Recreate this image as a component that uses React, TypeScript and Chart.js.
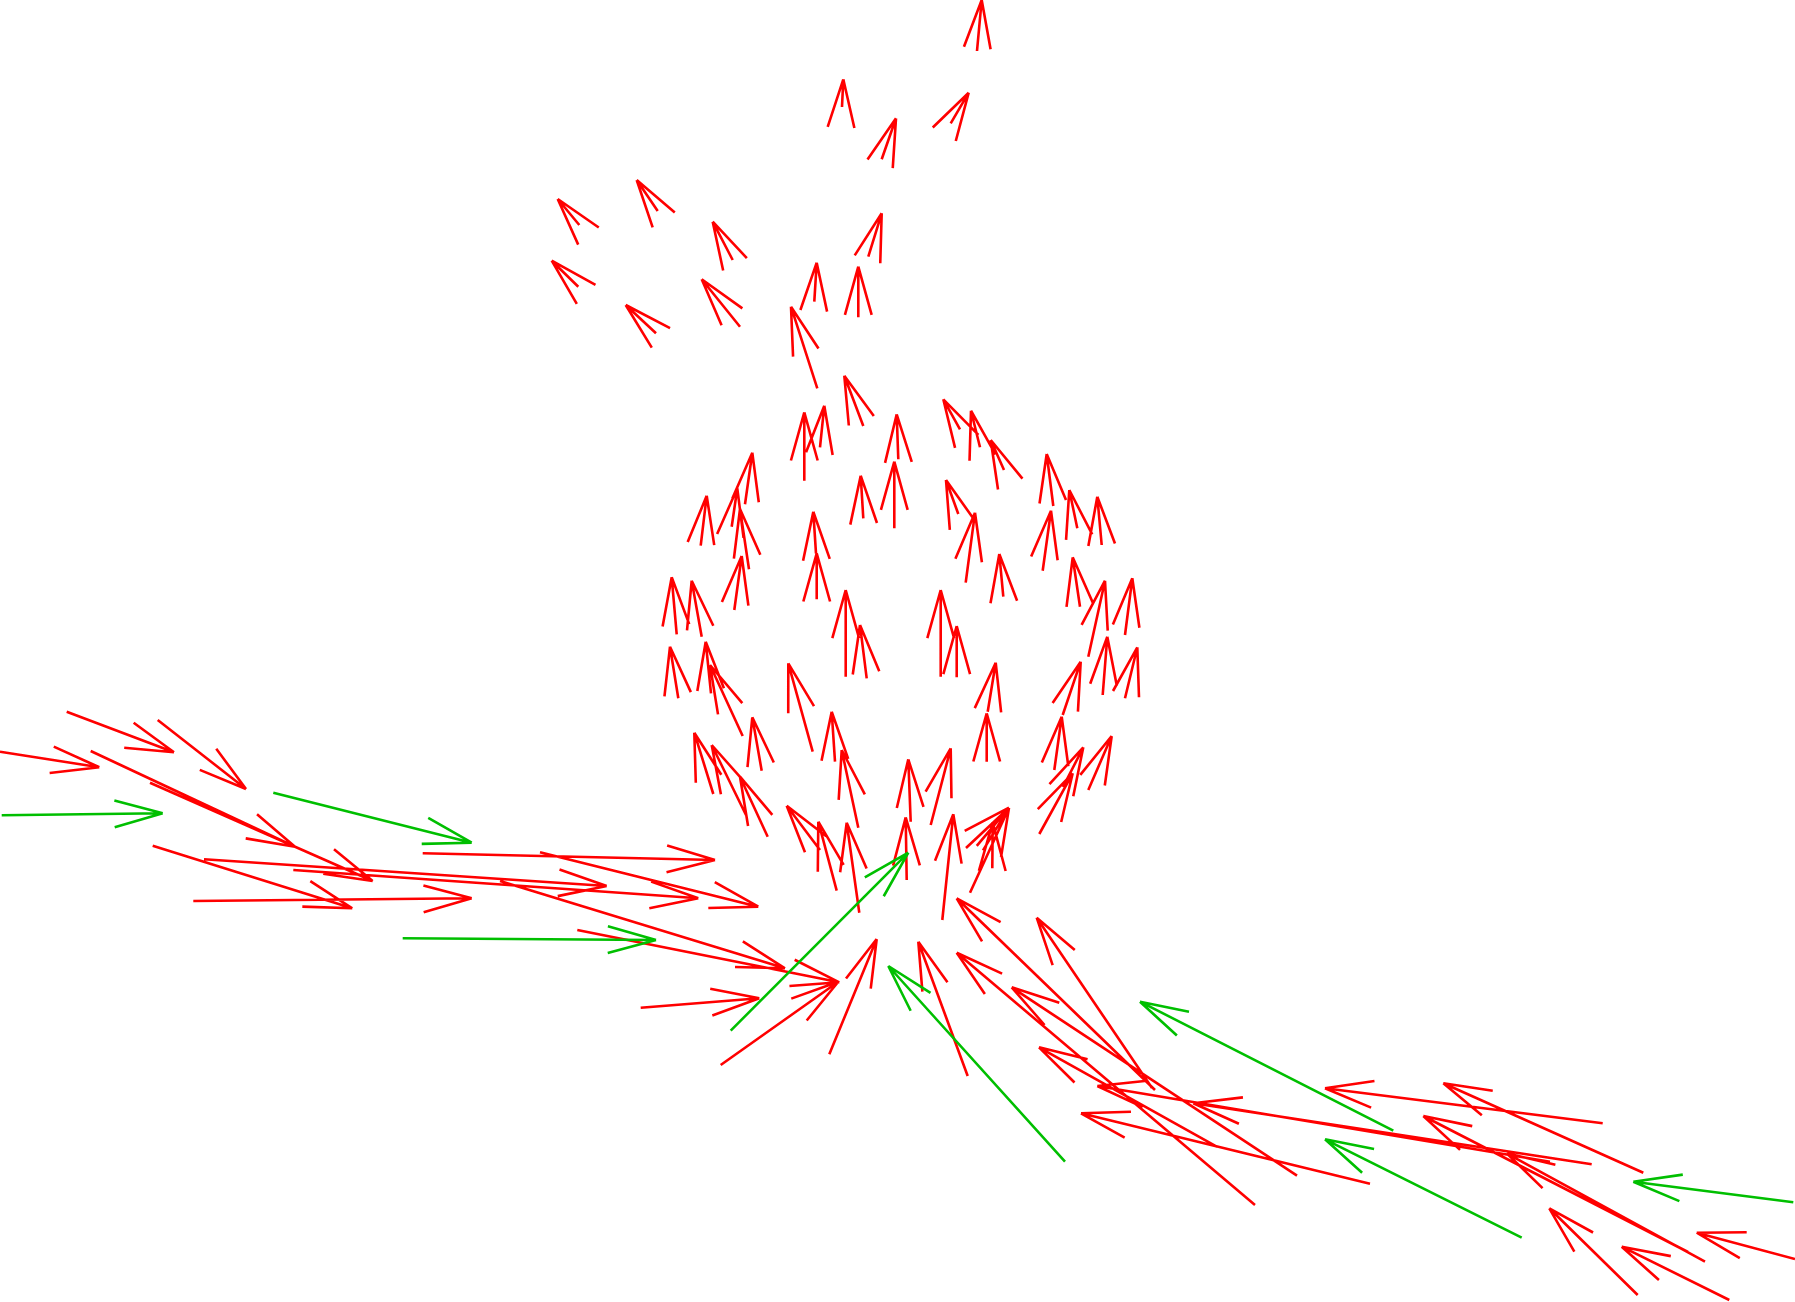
import { useEffect, useRef } from "react";
import { Chart, registerables } from "chart.js";

Chart.register(...registerables);

// arrows in the projected view plane: [tailX, tailY, tipX, tipY]
const PLANE_W = 1795;
const PLANE_H = 1302;

const redTop = [
  [977, 51, 981.7, 0],
  [842, 107, 843.3, 79.3],
  [881.7, 159.3, 896, 118.3],
  [950.7, 123.3, 968.7, 92.7],
  [579.3, 225, 557.7, 199],
  [657.7, 211, 636.7, 180],
  [732.7, 260, 712.7, 221.7],
  [868.3, 256.7, 881.7, 213.3],
  [578.3, 286.7, 551.7, 260.7],
  [740, 326.7, 701.7, 279.3],
  [656, 333.3, 625.7, 305],
  [814.3, 301.7, 816.7, 262.7],
  [858.3, 317.3, 858.3, 266.7],
  [817.3, 388.3, 791, 306.7],
];

const redRing = [
  [863.3, 426, 844.3, 375.7],
  [804.3, 480.7, 804.3, 412.3],
  [820, 447.3, 824.3, 405.7],
  [898.3, 459.3, 896.7, 414.3],
  [960, 429.3, 943.3, 399.3],
  [980, 447.3, 971, 410.7],
  [1004, 470, 990.7, 440],
  [1053.3, 506, 1046.7, 454],
  [1077.3, 528.3, 1069.3, 490],
  [1101.7, 545, 1097.3, 496.7],
  [1042.7, 570.7, 1051, 510.7],
  [958.3, 514, 946, 480],
  [965.7, 582.7, 975, 512.7],
  [1003.3, 596.7, 999.3, 554],
  [863.3, 518.3, 860.7, 475.7],
  [894.3, 528.3, 894.3, 461.7],
  [745, 504.3, 752.3, 452.7],
  [731.7, 526.7, 737.3, 488.3],
  [700.7, 545.7, 706.7, 495.7],
  [749, 569.3, 740, 509],
  [734.3, 610, 741.7, 556],
  [816, 553.3, 813.3, 511.7],
  [816.7, 599.3, 816.7, 553.3],
  [676.7, 634.3, 671.7, 577.3],
  [701.7, 636.7, 691.7, 580.7],
  [845.7, 676.7, 845.7, 590],
  [866.7, 678.3, 860, 625],
  [940.7, 676.7, 940.7, 590],
  [956.7, 677.3, 956.7, 626],
  [1080, 606.7, 1072.7, 557.3],
  [1088.3, 656.7, 1105, 580.7],
  [1125, 635, 1132.3, 578.3],
  [1102.7, 695, 1107.3, 636.7],
  [1125, 698.3, 1137.3, 647.3],
  [1062.7, 715, 1080.7, 661.7],
  [1054.3, 770, 1061.7, 716.7],
  [987.7, 711.7, 995.7, 662.7],
  [986.7, 761.7, 986.7, 713.3],
  [812.7, 751.7, 788.3, 663.3],
  [678.3, 698.3, 670, 646.7],
  [711, 693.3, 705.7, 641.7],
  [742.7, 736, 710, 665],
  [1088.3, 790, 1111.7, 736],
  [1063, 787, 1083.3, 747.3],
  [1039.3, 834, 1072.7, 773.3],
  [930.7, 825, 950.7, 748.3],
  [910.7, 821.7, 908.3, 759.3],
  [906.7, 880, 905.7, 817.3],
  [942.3, 920, 953.3, 814.3],
  [966, 848, 1009, 807.7],
  [970, 892.7, 1009, 807.7],
  [992.3, 868.3, 992.7, 822.7],
  [835, 761.7, 831.7, 711.7],
  [858.3, 827.7, 841.7, 750],
  [761.7, 770.7, 752.3, 717.3],
  [713.3, 794, 694.3, 732.7],
  [746, 815, 711.7, 745],
  [767.7, 836.7, 740, 776.7],
  [820, 850, 786.7, 805.7],
  [836.7, 890.7, 818.3, 821.7],
  [859.3, 912.7, 846.7, 822.7],
];

const redLeft = [
  [66.7, 711.7, 174, 752.3],
  [157.7, 720, 246, 789],
  [0, 751.7, 99.3, 767.3],
  [90.7, 751, 295, 846.7],
  [150, 782.7, 372.7, 881],
  [152.7, 845.7, 352.3, 908.3],
  [193.3, 901, 471.7, 898.3],
  [204, 859.3, 606.7, 886],
  [293.3, 870, 698.3, 898.3],
  [422.7, 853.3, 715, 860],
  [540, 852.3, 758.3, 906.7],
  [500, 881, 785, 968.3],
  [577.3, 930, 839.3, 982.3],
  [640.7, 1007.7, 759.3, 998.3],
  [720.7, 1065, 838.3, 981.7],
];

const redLower = [
  [829.3, 1054.3, 876.7, 939],
  [967.7, 1076, 918.3, 941.7],
  [1152, 1088, 1036.7, 917.7],
  [1155, 1090, 956.7, 898.3],
  [1255, 1205, 956.7, 952.7],
  [1297, 1175.7, 1011.7, 987.3],
  [1370, 1183.7, 1081, 1113.3],
  [1216.7, 1146.7, 1039, 1047.3],
  [1550, 1161.7, 1097.3, 1086],
  [1591.7, 1164.3, 1193.3, 1103.3],
  [1602.7, 1123.3, 1325, 1088.3],
  [1643.3, 1172.7, 1443.3, 1083.3],
  [1705, 1261.7, 1506.7, 1153.3],
  [1688, 1252, 1423.3, 1116],
  [1637.7, 1295, 1549.3, 1208.3],
  [1729.3, 1300, 1621.7, 1246.7],
  [1795, 1259, 1696.7, 1232.7],
];

const greenArrows = [
  [1.7, 815.3, 162.7, 813.3],
  [273.3, 792.7, 471.7, 842.7],
  [402.7, 938.3, 656, 940],
  [730.7, 1030.7, 908.3, 852.7],
  [1065, 1161.7, 888.3, 966],
  [1393.3, 1130.7, 1140, 1001.7],
  [1521.7, 1237.7, 1325, 1139.3],
  [1793.3, 1202.3, 1633.3, 1181.7],
];

const HEAD_LENGTH = 50; // plane units
const HEAD_ANGLE = (15.5 * Math.PI) / 180;

const quiverPlugin = {
  id: "quiver",
  afterDatasetsDraw(chart: any) {
    const { ctx, scales } = chart;
    const xs = scales.x;
    const ys = scales.y;
    const head = Math.abs(xs.getPixelForValue(HEAD_LENGTH) - xs.getPixelForValue(0));
    chart.data.datasets.forEach((ds: any) => {
      ctx.save();
      ctx.strokeStyle = ds.borderColor;
      ctx.lineWidth = ds.borderWidth;
      ctx.lineCap = "butt";
      ctx.beginPath();
      for (const [x0, y0, x1, y1] of ds.arrows) {
        const px0 = xs.getPixelForValue(x0);
        const py0 = ys.getPixelForValue(y0);
        const px1 = xs.getPixelForValue(x1);
        const py1 = ys.getPixelForValue(y1);
        const ang = Math.atan2(py0 - py1, px0 - px1);
        ctx.moveTo(px0, py0);
        ctx.lineTo(px1, py1);
        for (const s of [-1, 1]) {
          ctx.moveTo(px1, py1);
          ctx.lineTo(px1 + head * Math.cos(ang + s * HEAD_ANGLE), py1 + head * Math.sin(ang + s * HEAD_ANGLE));
        }
      }
      ctx.stroke();
      ctx.restore();
    });
  },
};

export default function App() {
  const canvasRef = useRef<HTMLCanvasElement | null>(null);

  useEffect(() => {
    if (!canvasRef.current) return;
    document.body.style.margin = "0";

    const makeSet = (label: string, arrows: number[][], color: string) => ({
      label,
      arrows,
      data: arrows.map((a) => ({ x: a[2], y: a[3] })),
      borderColor: color,
      borderWidth: 2.6,
      pointRadius: 0,
      pointHoverRadius: 0,
    });

    const chart = new Chart(canvasRef.current, {
      type: "scatter",
      data: {
        datasets: [
          makeSet("red", [...redTop, ...redRing, ...redLeft, ...redLower], "#ff0000"),
          makeSet("green", greenArrows, "#00bf00"),
        ] as any,
      },
      options: {
        responsive: false,
        animation: false,
        layout: { padding: 0 },
        plugins: {
          legend: { display: false },
          tooltip: { enabled: false },
        },
        scales: {
          x: { type: "linear", min: 0, max: PLANE_W, display: false },
          y: { type: "linear", min: 0, max: PLANE_H, reverse: true, display: false },
        },
      },
      plugins: [quiverPlugin],
    });

    return () => chart.destroy();
  }, []);

  return (
    <div style={{ width: PLANE_W, height: PLANE_H, background: "#fff" }}>
      <canvas ref={canvasRef} width={PLANE_W} height={PLANE_H} style={{ display: "block" }} />
    </div>
  );
}
